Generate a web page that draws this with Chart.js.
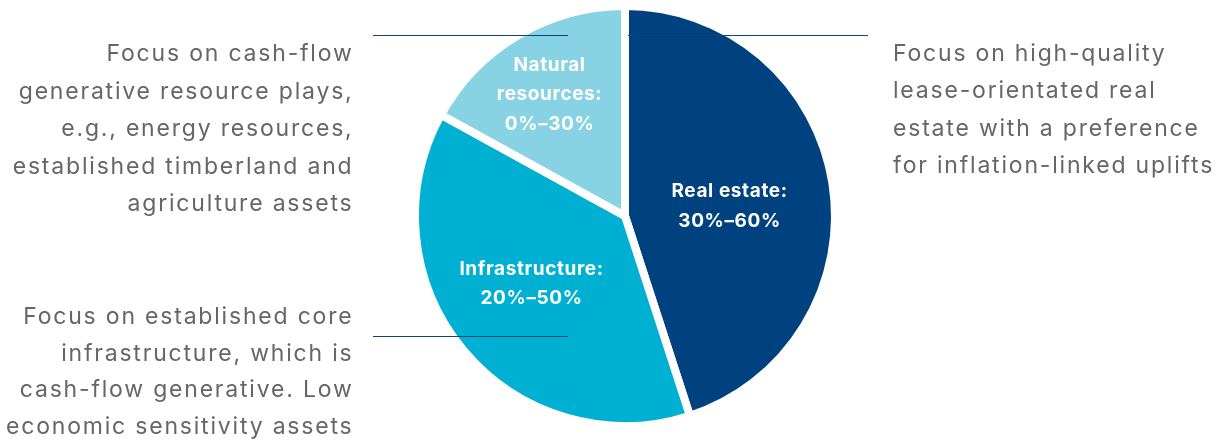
<!DOCTYPE html>
<html>
<head>
<meta charset="utf-8">
<script src="https://cdn.jsdelivr.net/npm/chart.js@4.4.1/dist/chart.umd.min.js"></script>
<style>
  html, body { margin: 0; padding: 0; background: #fff; }
  #wrap { position: relative; width: 1219px; height: 442px; }
</style>
</head>
<body>
<div id="wrap"><canvas id="pie"></canvas></div>
<script>
// ================= DATA =================
const categories = ["Real estate", "Infrastructure", "Natural resources"];
const shares = [45, 38, 17];
const rangeLabels = ["30%–60%", "20%–50%", "0%–30%"];
const sliceTitles = [["Real estate:"], ["Infrastructure:"], ["Natural", "resources:"]];
const sliceColors = ["#00427f", "#00b0d3", "#88d3e3"];

// notes next to the pie (one per slice)
const notes = [
  ["Focus on high-quality", "lease-orientated real", "estate with a preference", "for inflation-linked uplifts"],
  ["Focus on established core", "infrastructure, which is", "cash-flow generative. Low", "economic sensitivity assets"],
  ["Focus on cash-flow", "generative resource plays,", "e.g., energy resources,", "established timberland and", "agriculture assets"]
];

// ================= PLUGINS =================
// white labels inside slices
const sliceLabels = {
  id: "sliceLabels",
  afterDatasetsDraw(chart, args, opts) {
    const ctx = chart.ctx;
    const meta = chart.getDatasetMeta(0);
    ctx.save();
    ctx.fillStyle = "#ffffff";
    ctx.font = "bold 19px Inter, 'Noto Sans', sans-serif";
    ctx.letterSpacing = "0.6px";
    ctx.textAlign = "center";
    ctx.textBaseline = "middle";
    meta.data.forEach((arc, i) => {
      const mid = (arc.startAngle + arc.endAngle) / 2 + opts.nudge[i] * Math.PI / 180;
      const r = arc.outerRadius * opts.radius[i];
      const x = arc.x + Math.cos(mid) * r;
      const y = arc.y + Math.sin(mid) * r;
      const lines = sliceTitles[i].concat([rangeLabels[i]]);
      const lh = 29.5;
      const top = y - (lines.length - 1) * lh / 2;
      lines.forEach((t, k) => ctx.fillText(t, x, top + k * lh));
    });
    ctx.restore();
  }
};

// side notes with leader lines
const sideNotes = {
  id: "sideNotes",
  afterDraw(chart, args, opts) {
    const ctx = chart.ctx;
    ctx.save();
    ctx.strokeStyle = "#14427c";
    ctx.lineWidth = 1.2;
    opts.items.forEach(it => {
      ctx.beginPath();
      ctx.moveTo(it.line[0], it.line[2]);
      ctx.lineTo(it.line[1], it.line[2]);
      ctx.stroke();

      ctx.fillStyle = "#666666";
      ctx.font = "23px Inter, 'Noto Sans', sans-serif";
      ctx.letterSpacing = "1.8px";
      ctx.textAlign = it.align;
      ctx.textBaseline = "alphabetic";
      notes[it.note].forEach((t, k) => ctx.fillText(t, it.x, it.y + k * it.gap));
    });
    ctx.restore();
  }
};

// ================= CHART =================
const ctx = document.getElementById("pie").getContext("2d");

new Chart(ctx, {
  type: "pie",
  data: {
    labels: categories,
    datasets: [{
      data: shares,
      backgroundColor: sliceColors,
      borderColor: "#ffffff",
      borderWidth: 8,
      hoverOffset: 0
    }]
  },
  options: {
    responsive: true,
    maintainAspectRatio: false,
    animation: false,
    events: [],
    layout: { padding: { left: 31, right: 0, top: 2, bottom: 12 } },
    plugins: {
      legend: { display: false },
      tooltip: { enabled: false },
      sliceLabels: { radius: [0.5, 0.55, 0.68], nudge: [3.8, 3.6, -1.3] },
      sideNotes: {
        items: [
          { note: 0, x: 893, y: 61, gap: 37.3, align: "left", line: [628, 868, 35.5] },
          { note: 1, x: 353.5, y: 324, gap: 36.5, align: "right", line: [373, 568, 336.5] },
          { note: 2, x: 353.5, y: 61, gap: 37.5, align: "right", line: [373, 568, 35.5] }
        ]
      }
    }
  },
  plugins: [sliceLabels, sideNotes]
});
</script>
</body>
</html>
